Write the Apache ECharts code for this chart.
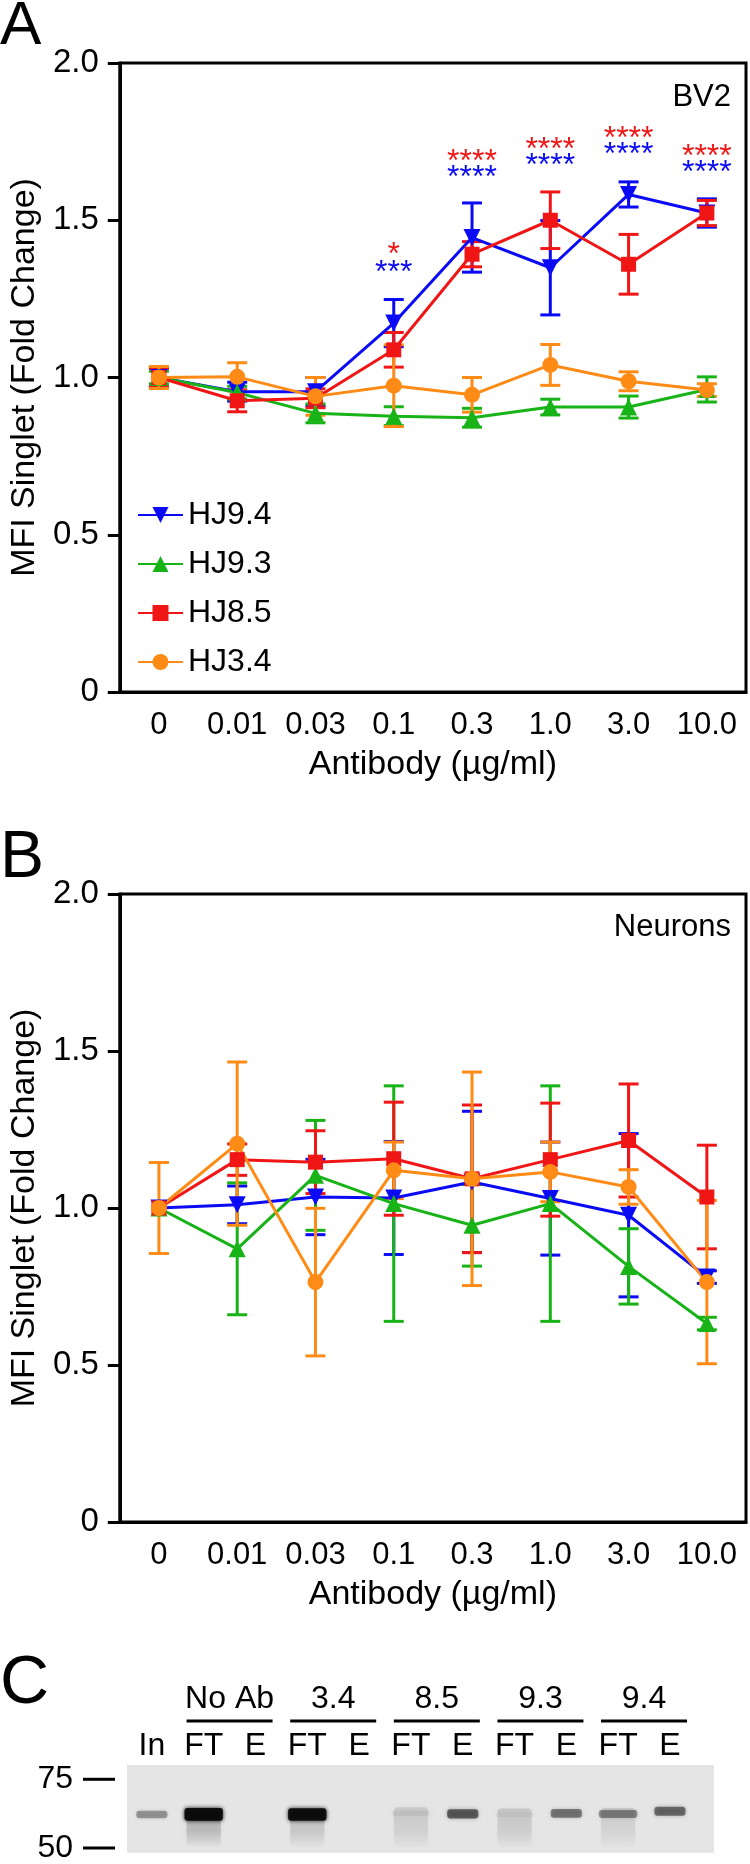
<!DOCTYPE html>
<html><head><meta charset="utf-8">
<script src="https://cdn.jsdelivr.net/npm/echarts@6.0.0/dist/echarts.min.js"></script>
<style>html,body{margin:0;padding:0;background:#fff}#c{width:750px;height:1864px}</style>
</head><body><div id="c"></div>
<script>
// ---------- DATA ----------
const categories = ['0', '0.01', '0.03', '0.1', '0.3', '1.0', '3.0', '10.0'];
const yTicks = [0, 0.5, 1.0, 1.5, 2.0];
const seriesNames = ['HJ9.4', 'HJ9.3', 'HJ8.5', 'HJ3.4'];

// Panel A (BV2)
const hj94A = [1.0, 0.955, 0.955, 1.173, 1.445, 1.349, 1.582, 1.523];
const hj94AErr = [0.03, 0.03, 0.045, 0.075, 0.11, 0.15, 0.04, 0.045];
const hj93A = [1.0, 0.952, 0.886, 0.877, 0.872, 0.906, 0.906, 0.962];
const hj93AErr = [0.02, 0.02, 0.03, 0.03, 0.03, 0.025, 0.035, 0.04];
const hj85A = [1.0, 0.926, 0.934, 1.088, 1.392, 1.5, 1.36, 1.523];
const hj85AErr = [0.03, 0.035, 0.03, 0.055, 0.04, 0.09, 0.095, 0.04];
const hj34A = [1.0, 1.002, 0.94, 0.974, 0.945, 1.04, 0.988, 0.96];
const hj34AErr = [0.035, 0.045, 0.06, 0.13, 0.055, 0.065, 0.03, 0.02];

// significance marks, panel A (level in fold-change units)
const sigRedText = ['', '', '', '*', '****', '****', '****', '****'];
const sigRedLevel = [null, null, null, 1.417, 1.712, 1.752, 1.786, 1.73];
const sigBlueText = ['', '', '', '***', '****', '****', '****', '****'];
const sigBlueLevel = [null, null, null, 1.36, 1.661, 1.701, 1.735, 1.678];

// Panel B (Neurons)
const hj94B = [1.0, 1.01, 1.035, 1.032, 1.083, 1.03, 0.977, 0.78];
const hj94BErr = [0, 0.06, 0.12, 0.18, 0.225, 0.18, 0.26, 0.02];
const hj93B = [1.0, 0.87, 1.104, 1.014, 0.945, 1.014, 0.814, 0.632];
const hj93BErr = [0, 0.21, 0.175, 0.375, 0.13, 0.375, 0.12, 0.02];
const hj85B = [1.0, 1.154, 1.146, 1.157, 1.093, 1.154, 1.215, 1.035];
const hj85BErr = [0, 0.05, 0.1, 0.18, 0.235, 0.18, 0.18, 0.165];
const hj34B = [1.0, 1.205, 0.764, 1.12, 1.093, 1.115, 1.067, 0.764];
const hj34BErr = [0.145, 0.26, 0.235, 0.09, 0.34, 0.095, 0.055, 0.26];

// Panel C (western blot)
const laneLabels = ['In', 'FT', 'E', 'FT', 'E', 'FT', 'E', 'FT', 'E', 'FT', 'E'];
const groupLabels = ['No Ab', '3.4', '8.5', '9.3', '9.4'];
const groupCenterLane = [1.5, 3.5, 5.5, 7.5, 9.5];
const markerKDa = [50, 75];
const bandKDa = [62.2, 62.2, 62.2, 62.2, 62.2, 62.6, 62.4, 62.2, 62.6, 62.4, 63.4];
const bandIntensity = [0.33, 0.97, 0.0, 0.93, 0.0, 0.06, 0.55, 0.03, 0.45, 0.38, 0.5];
const smearIntensity = [0.0, 0.3, 0.0, 0.22, 0.0, 0.16, 0.0, 0.18, 0.0, 0.14, 0.0];

// ---------- STYLE ----------
const FONT = '"Liberation Sans", Arial, Helvetica, sans-serif';
const colors = {'HJ9.4': '#0a0af5', 'HJ9.3': '#17b317', 'HJ8.5': '#f01616', 'HJ3.4': '#ff8b17'};
const symbols = {'HJ9.4': 'path://M0,0L2,0L1,1.732Z', 'HJ9.3': 'triangle', 'HJ8.5': 'rect', 'HJ3.4': 'circle'};
const symSizes = {'HJ9.4': 17, 'HJ9.3': 17, 'HJ8.5': 15, 'HJ3.4': 16};

const chart = echarts.init(document.getElementById('c'), null, {renderer: 'canvas'});

function errSeries(name, means, errs, ai) {
  const color = colors[name];
  return {
    type: 'custom', name: name + ' SEM', xAxisIndex: ai, yAxisIndex: ai, silent: true,
    encode: {x: 0, y: [1, 2]},
    data: means.map((m, i) => [i, m - errs[i], m + errs[i]]),
    renderItem(params, api) {
      const lo = api.coord([api.value(0), api.value(1)]);
      const hi = api.coord([api.value(0), api.value(2)]);
      if (Math.abs(lo[1] - hi[1]) < 1) return null;
      const hw = 10;
      const style = {stroke: color, lineWidth: 3};
      return {type: 'group', children: [
        {type: 'line', shape: {x1: lo[0], y1: lo[1], x2: hi[0], y2: hi[1]}, style},
        {type: 'line', shape: {x1: lo[0] - hw, y1: lo[1], x2: lo[0] + hw, y2: lo[1]}, style},
        {type: 'line', shape: {x1: hi[0] - hw, y1: hi[1], x2: hi[0] + hw, y2: hi[1]}, style}
      ]};
    }
  };
}
function lineSeries(name, vals, ai) {
  return {
    type: 'line', name, data: vals, xAxisIndex: ai, yAxisIndex: ai,
    symbol: symbols[name], symbolSize: symSizes[name], showAllSymbol: true,
    itemStyle: {color: colors[name]}, lineStyle: {color: colors[name], width: 3},
    emphasis: {disabled: true}
  };
}
function sigSeries(texts, levels, color) {
  return {
    type: 'custom', xAxisIndex: 0, yAxisIndex: 0, silent: true,
    data: levels.map((v, i) => [i, v, texts[i]]).filter(d => d[1] != null),
    renderItem(params, api) {
      const p = api.coord([api.value(0), api.value(1)]);
      return {type: 'text', x: p[0], y: p[1] + 9, style: {
        text: api.value(2), fill: color, font: '32px ' + FONT, align: 'center', verticalAlign: 'middle'}};
    }
  };
}

const axisTxt = {color: '#000', fontFamily: FONT, fontSize: 31};
function catAxis(gi) {
  return {
    type: 'category', gridIndex: gi, data: categories, boundaryGap: true,
    axisLine: {lineStyle: {color: '#000', width: 3}},
    axisTick: {alignWithLabel: true, length: 10, lineStyle: {color: '#000', width: 3}},
    axisLabel: Object.assign({interval: 0, margin: 18}, axisTxt),
    name: 'Antibody (\u00b5g/ml)', nameLocation: 'middle', nameGap: 56,
    nameTextStyle: {color: '#000', fontFamily: FONT, fontSize: 34}
  };
}
function valAxis(gi) {
  return {
    type: 'value', gridIndex: gi, min: yTicks[0], max: yTicks[yTicks.length - 1], interval: 0.5,
    axisLine: {show: true, lineStyle: {color: '#000', width: 3}},
    axisTick: {show: true, length: 12, lineStyle: {color: '#000', width: 3}},
    axisLabel: {margin: 21, formatter: v => v === 0 ? '0' : v.toFixed(1), color: '#000', fontFamily: FONT, fontSize: 33},
    splitLine: {show: false},
    name: 'MFI Singlet (Fold Change)', nameLocation: 'middle', nameGap: 70, nameRotate: 90,
    nameTextStyle: {color: '#000', fontFamily: FONT, fontSize: 34}
  };
}

const series = [];
const dataA = [[hj94A, hj94AErr], [hj93A, hj93AErr], [hj85A, hj85AErr], [hj34A, hj34AErr]];
const dataB = [[hj94B, hj94BErr], [hj93B, hj93BErr], [hj85B, hj85BErr], [hj34B, hj34BErr]];
seriesNames.forEach((n, k) => { series.push(errSeries(n, dataA[k][0], dataA[k][1], 0)); series.push(lineSeries(n, dataA[k][0], 0)); });
seriesNames.forEach((n, k) => { series.push(errSeries(n, dataB[k][0], dataB[k][1], 1)); series.push(lineSeries(n, dataB[k][0], 1)); });
series.push(sigSeries(sigRedText, sigRedLevel, colors['HJ8.5']));
series.push(sigSeries(sigBlueText, sigBlueLevel, colors['HJ9.4']));

// Gel bands
series.push({
  type: 'custom', xAxisIndex: 2, yAxisIndex: 2, silent: true, clip: true,
  data: laneLabels.map((l, i) => [i, bandKDa[i], bandIntensity[i], smearIntensity[i]]),
  renderItem(params, api) {
    const lane = api.value(0), kda = api.value(1), inten = api.value(2), smear = api.value(3);
    const c = api.coord([lane, kda]);
    const w = api.size([inten > 0.8 || smear > 0 ? 0.74 : 0.6, 0])[0];
    const children = [];
    if (smear > 0) {
      const bot = api.coord([lane, 50.4]);
      children.push({type: 'rect', shape: {x: c[0] - w / 2 + 2, y: c[1] - 6, width: w - 4, height: bot[1] - c[1] + 6, r: 4},
        style: {fill: new echarts.graphic.LinearGradient(0, 0, 0, 1, [
          {offset: 0, color: 'rgba(70,70,70,' + smear + ')'},
          {offset: 0.6, color: 'rgba(70,70,70,' + (smear * 0.7) + ')'},
          {offset: 1, color: 'rgba(70,70,70,0.02)'}]), shadowBlur: 6, shadowColor: 'rgba(70,70,70,' + smear + ')'}});
    }
    if (inten > 0) {
      const h = 5 + inten * 8;
      children.push({type: 'rect', shape: {x: c[0] - w / 2, y: c[1] - h / 2, width: w, height: h, r: 3},
        style: {fill: 'rgba(10,10,10,' + inten + ')', shadowBlur: 4, shadowColor: 'rgba(10,10,10,' + inten + ')'}});
    }
    return {type: 'group', children};
  }
});
// Molecular-weight marker dashes (left of the gel)
series.push({
  type: 'custom', xAxisIndex: 2, yAxisIndex: 2, silent: true, clip: false,
  data: markerKDa.map(k => [-0.48, k]),
  renderItem(params, api) {
    const p = api.coord([api.value(0), api.value(1)]);
    return {type: 'line', shape: {x1: p[0] - 44, y1: p[1], x2: p[0] - 12, y2: p[1]}, style: {stroke: '#000', lineWidth: 3}};
  }
});
// Group labels with overlines above lanes
series.push({
  type: 'custom', xAxisIndex: 2, yAxisIndex: 2, silent: true, clip: false,
  data: groupLabels.map((g, i) => [groupCenterLane[i], 60, g]),
  renderItem(params, api) {
    const c = api.coord([api.value(0), api.value(1)]);
    const top = params.coordSys.y;
    const hw = api.size([0.83, 0])[0];
    return {type: 'group', children: [
      {type: 'line', shape: {x1: c[0] - hw, y1: top - 44, x2: c[0] + hw, y2: top - 44}, style: {stroke: '#000', lineWidth: 3}},
      {type: 'text', x: c[0], y: top - 66, style: {text: api.value(2), fill: '#000', font: '32px ' + FONT, align: 'center', verticalAlign: 'middle'}}
    ]};
  }
});

const option = {
  animation: false,
  backgroundColor: '#fff',
  title: [
    {text: 'A', left: 0, top: -4, padding: 0, textStyle: {fontSize: 62, fontWeight: 'normal', color: '#000', fontFamily: FONT}},
    {text: 'BV2', right: 19, top: 82, padding: 0, textStyle: {fontSize: 31, fontWeight: 'normal', color: '#000', fontFamily: FONT}},
    {text: 'B', left: 0, top: 826, padding: 0, textStyle: {fontSize: 66, fontWeight: 'normal', color: '#000', fontFamily: FONT}},
    {text: 'Neurons', right: 19, top: 912, padding: 0, textStyle: {fontSize: 31, fontWeight: 'normal', color: '#000', fontFamily: FONT}},
    {text: 'C', left: 0, top: 1650, padding: 0, textStyle: {fontSize: 68, fontWeight: 'normal', color: '#000', fontFamily: FONT}}
  ],
  legend: {
    data: seriesNames, orient: 'vertical', left: 137, top: 499, padding: 0,
    itemWidth: 45, itemHeight: 20, itemGap: 17, selectedMode: false,
    textStyle: {fontSize: 32, lineHeight: 32, color: '#000', fontFamily: FONT}
  },
  grid: [
    {left: 119, top: 63, width: 627, height: 629, show: true, borderColor: '#000', borderWidth: 3, backgroundColor: 'transparent'},
    {left: 119, top: 894, width: 627, height: 628, show: true, borderColor: '#000', borderWidth: 3, backgroundColor: 'transparent'},
    {left: 127, top: 1765, width: 587, height: 92, show: true, borderWidth: 0, backgroundColor: '#e5e5e5'}
  ],
  xAxis: [catAxis(0), catAxis(1), {
    type: 'value', gridIndex: 2, min: -0.48, max: 10.85, position: 'top',
    axisLine: {show: false}, axisTick: {show: false}, splitLine: {show: false},
    axisLabel: {customValues: laneLabels.map((l, i) => i), formatter: v => laneLabels[Math.round(v)],
      margin: 3, color: '#000', fontFamily: FONT, fontSize: 32}
  }],
  yAxis: [valAxis(0), valAxis(1), {
    type: 'value', gridIndex: 2, min: 48.3, max: 80.2,
    axisLine: {show: false}, splitLine: {show: false}, axisTick: {show: false},
    axisLabel: {customValues: markerKDa, margin: 54, color: '#000', fontFamily: FONT, fontSize: 32}
  }],
  series
};
chart.setOption(option);
</script></body></html>
